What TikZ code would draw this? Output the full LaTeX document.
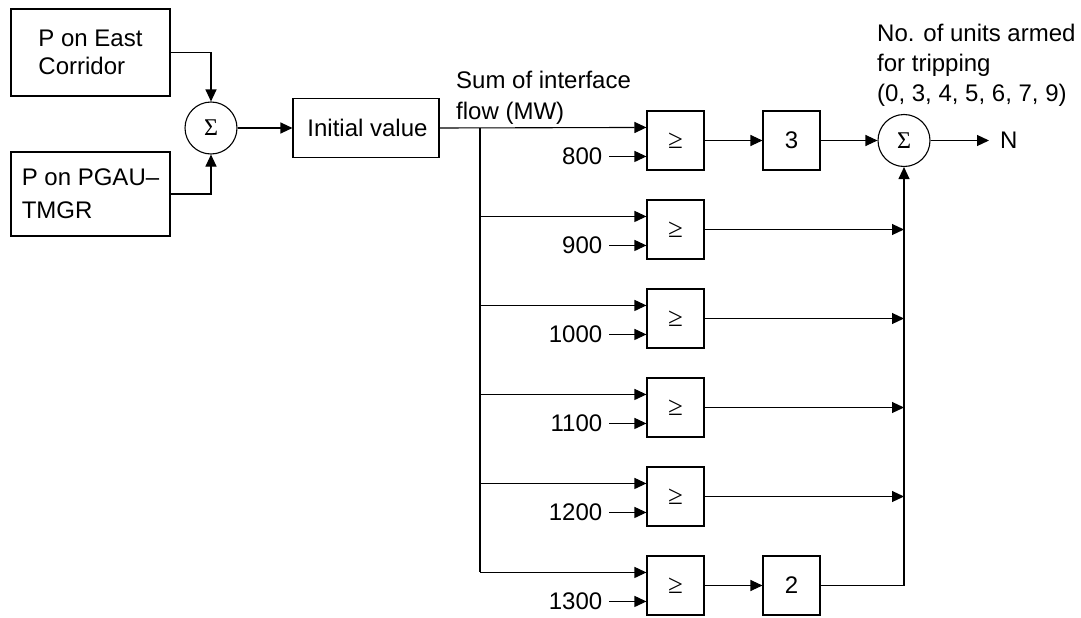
\documentclass[tikz,border=0pt]{standalone}
\usepackage{fontspec}
\setmainfont{Liberation Sans}
\newfontfamily\serifsym{Liberation Serif}
\usetikzlibrary{arrows.meta,calc}
\begin{document}
\begin{tikzpicture}[x=1pt,y=-1pt,
  every node/.style={font=\fontsize{24}{28}\selectfont},
  box/.style={draw, line width=1.1pt, inner sep=0pt, align=left},
  cmp/.style={box, minimum width=57pt, minimum height=59pt, font=\serifsym\fontsize{27}{27}\selectfont},
  sq/.style={box, minimum width=57pt, minimum height=59pt},
  sumc/.style={draw, circle, line width=1.1pt, minimum size=52pt, inner sep=0pt, font=\serifsym\fontsize{24}{24}\selectfont},
  arr/.style={-{Triangle[length=12pt,width=11pt]}, line width=1.1pt},
  ln/.style={line width=1.1pt},
  lbl/.style={anchor=north west, inner sep=0pt, align=left}]
\useasboundingbox (0,0) rectangle (1081,618);

\node[box, minimum width=159pt, minimum height=87pt] (pe) at (90.5,52.5) {P on East\\Corridor};
\node[box, minimum width=159pt, minimum height=84pt, font=\fontsize{24}{33}\selectfont] (pg) at (90.5,194) {P on PGAU–\\TMGR};
\node[sumc] (s1) at (211,128) {Σ};
\node[box, minimum width=146pt, minimum height=59pt] (iv) at (366,128) {\hspace*{3pt}Initial value};

\draw[arr] (pe) -| (s1);
\draw[arr] (pg) -| (s1);
\draw[arr] (s1) -- (iv);

\foreach \i/\v in {0/800,1/900,2/1000,3/1100,4/1200,5/1300} {
  \pgfmathsetmacro\T{111+89*\i}
  \node[cmp] (c\i) at (675.5,\T+29.5) {≥};
  \coordinate (a\i) at ($(c\i.north west)+(0,17)$);
  \coordinate (b\i) at ($(c\i.north west)+(0,46)$);
  \node[anchor=east, inner xsep=7pt, inner ysep=0pt] (v\i) at ($(b\i)+(-37,0)$) {\v};
  \draw[arr] (v\i.east) -- (b\i);
}

\coordinate (br) at (480,128);
\draw[arr] (iv.east) -- (a0);
\draw[ln] (br) -- (br |- a5);
\foreach \i in {1,...,5} \draw[arr] (br |- a\i) -- (a\i);

\node[sumc] (s2) at (904,140.5) {Σ};
\node[sq] (k3) at (791.5,140.5) {3};
\node[sq] (k2) at (791.5,585.5) {2};
\node[anchor=west, inner xsep=11pt, inner ysep=0pt] (n) at (989,140.5) {N};

\draw[arr] (c0) -- (k3);
\draw[arr] (k3) -- (s2);
\draw[arr] (s2) -- (n);
\draw[arr] (c5) -- (k2);
\draw[arr] (k2) -| (s2);
\foreach \i in {1,...,4} \draw[arr] (c\i) -- (c\i -| s2);

\node[lbl, font=\fontsize{24}{31}\selectfont] (sl) at (456,71) {Sum of interface\\flow (MW)};
\node[lbl, font=\fontsize{24}{30}\selectfont] (nl) at (877,24) {No. of units armed\\for tripping\\(0, 3, 4, 5, 6, 7, 9)};
\end{tikzpicture}
\end{document}
